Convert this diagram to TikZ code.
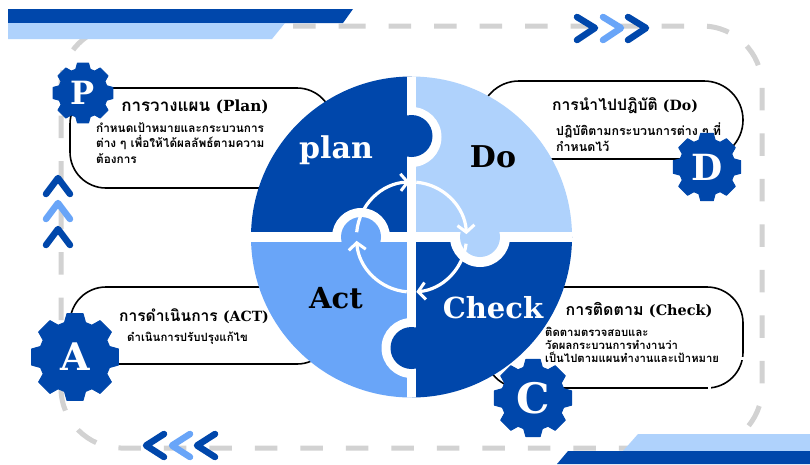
\documentclass[tikz,border=0pt]{standalone}
\usepackage{fontspec}
\usetikzlibrary{arrows.meta}
\newfontfamily\thaifont[Script=Thai]{Loma}
\newfontfamily\serifbig{DejaVu Serif}
\newfontfamily\latfam[Scale=0.9]{DejaVu Serif}
\definecolor{bdark}{HTML}{0047AB}
\definecolor{bmid}{HTML}{69A5F8}
\definecolor{bpale}{HTML}{AFD2FC}
\definecolor{dashgrey}{HTML}{D2D2D2}
\tikzset{
  frame/.style={draw=dashgrey,line width=5pt,dash pattern=on 22.5pt off 23pt},
  chev/.style={line width=6.5pt,line cap=round,line join=round},
  pill/.style={draw=black,line width=1.6pt,rounded corners=36pt},
  cyc/.style={draw=white,line width=3.2pt,-{Straight Barb[length=7pt,width=17pt,line width=3pt]}},
  title/.style={font=\thaifont\bfseries\fontsize{#1}{17}\selectfont,text=black,inner sep=0pt},
  body/.style={font=\thaifont\bfseries\fontsize{#1}{15.5}\selectfont,text=black,inner sep=0pt,align=left,anchor=north west},
  big/.style={font=\serifbig\bfseries\fontsize{#1}{#1}\selectfont,inner sep=0pt},
}
\newcommand{\lat}[1]{{\latfam\bfseries #1}}
\newcommand{\gearmark}[5]{%
  \begin{scope}[shift={(#2,#3)}]
    \fill[bdark,line join=round,draw=bdark,line width=1pt]
      (-17:{.80*#4})
      \foreach \a in {0,45,...,315}{
        -- ({\a-17}:{.80*#4}) -- ({\a-10.5}:{.98*#4}) -- ({\a+10.5}:{.98*#4}) -- ({\a+17}:{.80*#4})
      } -- cycle;
  \end{scope}
  \node[big=#5,text=white] (#1) at (#2,#3) {#1};
}
\begin{document}
\begin{tikzpicture}[x=1pt,y=-1pt]
\useasboundingbox (0,0) rectangle (810,464);
\fill[white] (0,0) rectangle (810,464);
% dashed frame
\coordinate (f0) at (343,26);
\draw[frame] (f0) -- (702,26) arc[start angle=90,end angle=0,radius=60pt] -- (762,388)
  arc[start angle=0,end angle=-90,radius=60pt] -- (121,448)
  arc[start angle=270,end angle=180,radius=60pt] -- (61,86)
  arc[start angle=180,end angle=90,radius=60pt] -- cycle;
% corner bars
\fill[bdark] (8,9) -- (353,9) -- (343,23) -- (8,23) -- cycle;
\fill[bpale] (8,23) -- (285,23) -- (272,39) -- (8,39) -- cycle;
\fill[bpale] (638,434) -- (810,434) -- (810,451) -- (623,451) -- cycle;
\fill[bdark] (568,451) -- (810,451) -- (810,464) -- (557,464) -- cycle;
% chevrons
\draw[chev,bdark] (577,17) -- (595,28) -- (577,40);
\draw[chev,bmid] (603,17) -- (621,28) -- (603,40);
\draw[chev,bdark] (628,17) -- (646,28) -- (628,40);
\draw[chev,bdark] (46,194) -- (58,178) -- (70,194);
\draw[chev,bmid] (46,219) -- (58,203) -- (70,219);
\draw[chev,bdark] (46,245) -- (58,229) -- (70,245);
\draw[chev,bdark] (164,434) -- (146,445.5) -- (164,457);
\draw[chev,bmid] (190,434) -- (172,445.5) -- (190,457);
\draw[chev,bdark] (215,434) -- (197,445.5) -- (215,457);
% text boxes
\draw[pill] (70,88) rectangle (333,188);
\draw[pill,rounded corners=39pt] (480,81) rectangle (743,159);
\draw[pill] (485,287) rectangle (743,388);
\draw[pill] (70,287) rectangle (333,364);
\fill[white] (707.5,384) rectangle (711,392);
\fill[white] (739,356.5) rectangle (747,359.5);
% puzzle wheel
\coordinate (c) at (411.5,237);
\begin{scope}
  \clip (c) circle[radius=160.5pt];
  \fill[bdark] (240,60) rectangle (411.5,237);
  \fill[bpale] (411.5,60) rectangle (580,237);
  \fill[bdark] (411.5,237) rectangle (580,410);
  \fill[bmid] (240,237) rectangle (411.5,410);
  \begin{scope}
    \clip (416.2,60) rectangle (580,232);
    \fill[white] (411.5,137) circle[radius=30pt];
  \end{scope}
  \begin{scope}
    \clip (416.2,241.8) rectangle (580,410);
    \fill[white] (480,237) circle[radius=30pt];
  \end{scope}
  \begin{scope}
    \clip (240,60) rectangle (406.8,232.2);
    \fill[white] (361,237) circle[radius=29pt];
  \end{scope}
  \begin{scope}
    \clip (240,241.8) rectangle (406.8,410);
    \fill[white] (411.5,348) circle[radius=30pt];
  \end{scope}
  \fill[white] (406.8,60) rectangle (416.2,410);
  \fill[white] (240,232.2) rectangle (580,241.8);
  \fill[bdark] (411.5,136) circle[radius=21pt];
  \fill[bpale] (480,237) circle[radius=20pt];
  \fill[bmid] (361,237) circle[radius=20pt];
  \fill[bdark] (411.5,348) circle[radius=21pt];
\end{scope}
% cycle arrows
\coordinate (a1) at ([shift={(c)}]175:55pt);
\coordinate (a2) at ([shift={(c)}]85:55pt);
\coordinate (a3) at ([shift={(c)}]-7:55pt);
\coordinate (a4) at ([shift={(c)}]-95:55pt);
\draw[cyc] (a1) arc[start angle=175,end angle=92,radius=55pt];
\draw[cyc] (a2) arc[start angle=85,end angle=3,radius=55pt];
\draw[cyc] (a3) arc[start angle=-7,end angle=-85,radius=55pt];
\draw[cyc] (a4) arc[start angle=-95,end angle=-176,radius=55pt];
% wheel words
\node[big=30,text=white] (plan) at (336,150) {plan};
\node[big=30,text=black] (do) at (493,157) {Do};
\node[big=29,text=black] (act) at (336,298) {Act};
\node[big=29,text=white] (check) at (493,308) {Check};
% titles and bodies
\node[title=17] (t1) at (195,107) {การวางแผน \lat{(Plan)}};
\node[body=11.8] (b1) at (96,122) {กำหนดเป้าหมายและกระบวนการ\\ต่าง ๆ เพื่อให้ได้ผลลัพธ์ตามความ\\ต้องการ};
\node[title=15.7] (t2) at (625,106) {การนำไปปฎิบัติ \lat{(Do)}};
\node[body=12.4] (b2) at (556,123) {ปฎิบัติตามกระบวนการต่าง ๆ ที่\\กำหนดไว้};
\node[title=16] (t3) at (639,310) {การติดตาม \lat{(Check)}};
\node[body=11.3,font=\thaifont\bfseries\fontsize{11.3}{13.2}\selectfont] (b3) at (545,327) {ติดตามตรวจสอบและ\\วัดผลกระบวนการทำงานว่า\\เป็นไปตามแผนทำงานและเป้าหมาย};
\node[title=15.6] (t4) at (194,316) {การดำเนินการ \lat{(ACT)}};
\node[body=11.4] (b4) at (127,332) {ดำเนินการปรับปรุงแก้ไข};
% gears
\gearmark{P}{83}{93}{31}{32}
\gearmark{D}{707}{167}{35}{36}
\gearmark{C}{533}{398}{40}{42}
\gearmark{A}{75}{357}{45}{38}
\end{tikzpicture}
\end{document}
